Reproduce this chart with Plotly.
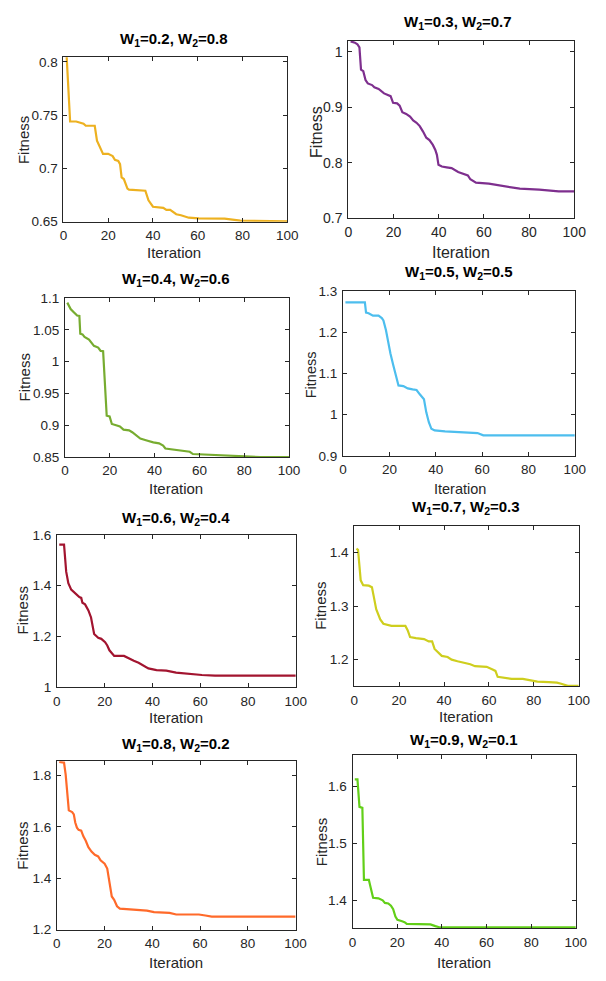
import plotly.graph_objects as go

W, H = 606, 981

# ---- data: best fitness per iteration for each weight pair ----
titles = [
    "W<sub>1</sub>=0.2, W<sub>2</sub>=0.8",
    "W<sub>1</sub>=0.3, W<sub>2</sub>=0.7",
    "W<sub>1</sub>=0.4, W<sub>2</sub>=0.6",
    "W<sub>1</sub>=0.5, W<sub>2</sub>=0.5",
    "W<sub>1</sub>=0.6, W<sub>2</sub>=0.4",
    "W<sub>1</sub>=0.7, W<sub>2</sub>=0.3",
    "W<sub>1</sub>=0.8, W<sub>2</sub>=0.2",
    "W<sub>1</sub>=0.9, W<sub>2</sub>=0.1",
]

it1 = [1, 3, 5.7, 7, 9, 10, 14, 15, 17.7, 20, 22, 23, 24.5, 25.3, 26, 27, 28.6, 29.3,
       36.6, 38, 40, 44.6, 46, 47.7, 50.4, 52.5, 56, 60.5, 72, 79, 89.5, 100]
fit1 = [0.823, 0.744, 0.744, 0.743, 0.742, 0.740, 0.740, 0.726, 0.7136, 0.7136, 0.7115,
        0.708, 0.707, 0.704, 0.6915, 0.690, 0.681, 0.680, 0.679, 0.670, 0.664, 0.663,
        0.661, 0.661, 0.657, 0.656, 0.6537, 0.653, 0.6528, 0.651, 0.6503, 0.6503]

it2 = [1, 2.9, 4, 4.9, 5.6, 6.6, 7.6, 8.6, 10.5, 11.5, 13.4, 14.8, 15.8, 18.7, 19.8,
       21.6, 22.7, 23.9, 25.6, 27.3, 28.7, 30.2, 31.6, 33, 34.5, 35.9, 37.4, 38.5, 39.2,
       39.9, 41.4, 43.5, 45.7, 48.6, 50.7, 52.9, 54, 56.5, 62.2, 67.2, 73, 75.9, 84.5,
       93.1, 100]
fit2 = [1.019, 1.0166, 1.0137, 1.008, 0.968, 0.965, 0.949, 0.943, 0.940, 0.936, 0.933,
        0.929, 0.925, 0.920, 0.908, 0.907, 0.903, 0.891, 0.888, 0.883, 0.876, 0.872,
        0.866, 0.8565, 0.845, 0.8406, 0.832, 0.823, 0.814, 0.796, 0.793, 0.7915, 0.790,
        0.783, 0.780, 0.777, 0.770, 0.764, 0.762, 0.7585, 0.755, 0.753, 0.7514, 0.748,
        0.748]

it3 = [1, 2.5, 3.9, 5.4, 6.4, 6.8, 7.8, 8.7, 10.7, 12.9, 14.8, 15.9, 17, 18.6, 19.9,
       20.9, 22.8, 24.5, 26.1, 28.6, 30, 31.9, 33.6, 36.5, 39.4, 42, 43.8, 44.8, 48.1,
       51.7, 55.7, 57.1, 62.6, 71.3, 78.6, 87.2, 100]
fit3 = [1.093, 1.083, 1.078, 1.0726, 1.072, 1.044, 1.043, 1.039, 1.035, 1.025, 1.0223,
        1.017, 1.0166, 0.915, 0.914, 0.902, 0.900, 0.898, 0.893, 0.892, 0.889, 0.883,
        0.879, 0.876, 0.873, 0.8716, 0.868, 0.8634, 0.862, 0.861, 0.8583, 0.8547, 0.854,
        0.853, 0.8516, 0.850, 0.850]

it4 = [1, 9.4, 9.9, 11, 12.9, 15.3, 16.7, 17.4, 18.5, 19.5, 20.4, 21.6, 23, 23.9, 26,
       27.9, 30, 31.7, 33.1, 34.9, 35.9, 37, 38.1, 39.5, 44, 53.8, 58, 60.5, 100]
fit4 = [1.2722, 1.2722, 1.2475, 1.246, 1.240, 1.240, 1.234, 1.2284, 1.2046, 1.173, 1.149,
        1.121, 1.089, 1.071, 1.0694, 1.0638, 1.0614, 1.060, 1.0495, 1.0376, 1.0058, 0.982,
        0.966, 0.962, 0.9596, 0.958, 0.9557, 0.950, 0.950]

it5 = [1, 3, 3.9, 4.8, 6, 7.7, 9.4, 10.2, 10.7, 11.8, 13.2, 14.3, 15.6, 17.3, 18.6, 20.2,
       21.1, 22, 24, 28.1, 30.2, 32.2, 34.2, 36.3, 38.3, 41.7, 45.8, 49.9, 55.3, 60.7,
       66.2, 100]
fit5 = [1.561, 1.561, 1.455, 1.410, 1.3845, 1.368, 1.355, 1.352, 1.333, 1.3265, 1.303,
        1.275, 1.21, 1.195, 1.191, 1.178, 1.165, 1.146, 1.124, 1.124, 1.1135, 1.1045,
        1.097, 1.084, 1.075, 1.068, 1.066, 1.058, 1.052, 1.049, 1.0465, 1.0465]

it6 = [1, 1.7, 2.9, 4, 6.5, 7.9, 8.7, 9.8, 11.6, 13, 16.6, 22.8, 23.8, 24.9, 27.5, 31.1,
       33.2, 34.7, 35.8, 37.3, 39, 41.6, 43.4, 46, 49.4, 51.7, 53.8, 59, 61.4, 62.9, 63.9,
       66.5, 70.1, 75.1, 78.3, 81.6, 86.7, 90.3, 92.2, 95.1, 100]
fit6 = [1.4073, 1.405, 1.348, 1.339, 1.338, 1.335, 1.318, 1.294, 1.275, 1.267, 1.263,
        1.263, 1.255, 1.242, 1.240, 1.2384, 1.234, 1.234, 1.220, 1.213, 1.207, 1.205,
        1.200, 1.197, 1.1945, 1.1915, 1.1878, 1.1866, 1.182, 1.179, 1.168, 1.1665, 1.164,
        1.164, 1.162, 1.159, 1.158, 1.157, 1.155, 1.151, 1.151]

it7 = [1, 3, 3.7, 4.3, 5, 6.4, 7.1, 7.7, 8.4, 9.1, 10.2, 11.1, 12.1, 13.2, 14.5, 15.9,
       17.3, 18.3, 20, 21.1, 22, 23, 24, 25.2, 26.4, 29.5, 33.6, 37.7, 40.7, 47.2, 50,
       59.5, 62.2, 64.9, 100]
fit7 = [1.853, 1.850, 1.802, 1.725, 1.664, 1.6575, 1.6486, 1.617, 1.597, 1.5885, 1.585,
        1.563, 1.546, 1.521, 1.504, 1.491, 1.485, 1.470, 1.457, 1.438, 1.387, 1.329,
        1.316, 1.291, 1.282, 1.280, 1.278, 1.274, 1.268, 1.265, 1.259, 1.259, 1.255,
        1.251, 1.251]

it8 = [1, 2.2, 3.1, 3.9, 4.4, 5.1, 7.3, 8, 9.2, 11.6, 13.5, 14.5, 16, 17.2, 18.2, 19.2,
       20.1, 22.2, 23.3, 24.3, 33.4, 34.9, 37.1, 38.8, 100]
fit8 = [1.6127, 1.6127, 1.5643, 1.5625, 1.5625, 1.4357, 1.4357, 1.424, 1.404, 1.403,
        1.3994, 1.395, 1.394, 1.390, 1.384, 1.371, 1.365, 1.3625, 1.361, 1.358, 1.357,
        1.357, 1.354, 1.352, 1.352]

iterations = [it1, it2, it3, it4, it5, it6, it7, it8]
fitness = [fit1, fit2, fit3, fit4, fit5, fit6, fit7, fit8]

x_ticks = [0, 20, 40, 60, 80, 100]
y_ticks = [
    [0.65, 0.7, 0.75, 0.8],
    [0.7, 0.8, 0.9, 1.0],
    [0.85, 0.9, 0.95, 1.0, 1.05, 1.1],
    [0.9, 1.0, 1.1, 1.2, 1.3],
    [1.0, 1.2, 1.4, 1.6],
    [1.2, 1.3, 1.4],
    [1.2, 1.4, 1.6, 1.8],
    [1.4, 1.5, 1.6],
]
y_tick_text = [
    ["0.65", "0.7", "0.75", "0.8"],
    ["0.7", "0.8", "0.9", "1"],
    ["0.85", "0.9", "0.95", "1", "1.05", "1.1"],
    ["0.9", "1", "1.1", "1.2", "1.3"],
    ["1", "1.2", "1.4", "1.6"],
    ["1.2", "1.3", "1.4"],
    ["1.2", "1.4", "1.6", "1.8"],
    ["1.4", "1.5", "1.6"],
]

# ---- styling / placement (pixels in the 606x981 page) ----
colors = ["#EDB120", "#7E2F8E", "#77AC30", "#4DBEEE",
          "#A2142F", "#CECE1E", "#FF6A2A", "#62CF18"]
y_ranges = [[0.65, 0.8043], [0.7, 1.02], [0.85, 1.1], [0.9, 1.3],
            [1.0, 1.6], [1.15, 1.45], [1.2, 1.855], [1.35, 1.655]]
# plot boxes: left, right, top, bottom
boxes = [
    (61, 291, 51, 218),
    (353.7, 585.7, 34.3, 214.3),
    (62.7, 292.7, 295.7, 457),
    (348.3, 586.3, 288.3, 456),
    (54.3, 299.7, 536, 691),
    (359.7, 590.3, 526.7, 690),
    (54.3, 299.5, 766, 937),
    (358, 587.3, 760, 935.7),
]
title_pos = [(175, 33), (466, 16), (177, 277), (467, 270),
             (177, 519), (475, 508), (177, 749), (472, 745)]
ylabel_pos = [(20.7, 135), (320.3, 127), (20.7, 376), (315.3, 373),
              (19.3, 613), (325.7, 608), (19.3, 852), (325.7, 848)]
xlabel_pos = [(175, 249), (469, 249), (177, 489), (468, 489),
              (177, 722), (475, 721), (177, 970), (472, 970)]
tick_sizes = [13.5, 14, 13.5, 13.5, 13.5, 13.5, 13.5, 13.5]
label_sizes = [15, 16, 15, 14.5, 15, 15, 15, 15]

FONT = "Liberation Sans, Arial, Helvetica, sans-serif"
AX = "#262626"


def px(x):
    return x / W


def py(y):
    return 1 - y / H


fig = go.Figure()
annotations = []
layout = {}

for i in range(8):
    n = i + 1
    xa = "x" if n == 1 else f"x{n}"
    ya = "y" if n == 1 else f"y{n}"
    l, r, t, b = boxes[i]

    fig.add_trace(go.Scatter(
        x=iterations[i], y=fitness[i], mode="lines",
        line=dict(color=colors[i], width=2.2),
        xaxis=xa, yaxis=ya, showlegend=False, hoverinfo="skip",
    ))

    common = dict(
        showline=True, linecolor=AX, linewidth=1, mirror="allticks",
        ticks="inside", ticklen=4, tickwidth=1, tickcolor=AX,
        showgrid=False, zeroline=False,
        tickfont=dict(family=FONT, size=tick_sizes[i], color=AX),
    )
    layout["xaxis" if n == 1 else f"xaxis{n}"] = dict(
        domain=[px(l), px(r)], anchor=ya, range=[0, 100],
        tickmode="array", tickvals=x_ticks,
        ticktext=[str(v) for v in x_ticks], ticklabelstandoff=1, **common,
    )
    layout["yaxis" if n == 1 else f"yaxis{n}"] = dict(
        domain=[py(b), py(t)], anchor=xa, range=y_ranges[i],
        tickmode="array", tickvals=y_ticks[i], ticktext=y_tick_text[i],
        ticklabelstandoff=2, **common,
    )

    tx, ty = title_pos[i]
    annotations.append(dict(
        text=f"<b>{titles[i]}</b>", x=px(tx), y=py(ty), xref="paper", yref="paper",
        xanchor="center", yanchor="middle", showarrow=False,
        font=dict(family=FONT, size=15, color="#000000"),
    ))
    lx, ly = ylabel_pos[i]
    annotations.append(dict(
        text="Fitness", x=px(lx), y=py(ly), xref="paper", yref="paper",
        xanchor="center", yanchor="middle", showarrow=False, textangle=-90,
        font=dict(family=FONT, size=label_sizes[i], color=AX),
    ))
    bx, by = xlabel_pos[i]
    annotations.append(dict(
        text="Iteration", x=px(bx), y=py(by), xref="paper", yref="paper",
        xanchor="center", yanchor="middle", showarrow=False,
        font=dict(family=FONT, size=label_sizes[i], color=AX),
    ))

fig.update_layout(
    width=W, height=H,
    margin=dict(l=0, r=0, t=0, b=0),
    paper_bgcolor="white", plot_bgcolor="white",
    annotations=annotations,
    **layout,
)

fig.write_html("out.html")
